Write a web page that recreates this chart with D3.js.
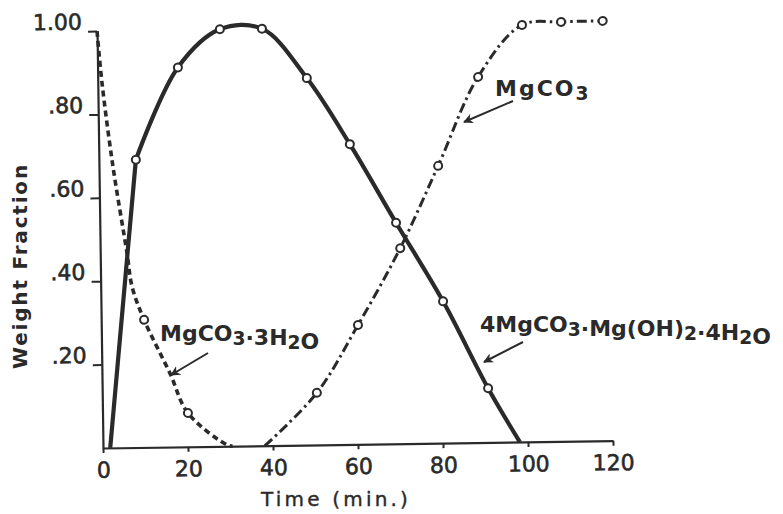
<!DOCTYPE html>
<html>
<head>
<meta charset="utf-8">
<script src="https://cdn.jsdelivr.net/npm/d3@7"></script>
<style>
  body { margin: 0; background: #fff; }
  svg { display: block; font-family: "DejaVu Sans", sans-serif; }
</style>
</head>
<body>
<svg id="chart" width="783" height="514"></svg>
<script>
// 4MgCO3·Mg(OH)2·4H2O (solid, circles)
const basicTime = [8.7, 18.9, 28.9, 38.8, 49.2, 59.1, 69.7, 80.5, 90.8];
const basicFrac = [0.69, 0.91, 1.00, 1.00, 0.88, 0.72, 0.53, 0.34, 0.13];
const basicStart = [1.7, 0];
const basicEnd = [98.1, 0];

// MgCO3·3H2O (dashed)
const triTime = [0, 1.0, 3.3, 6.3, 7.4, 10.1, 16.0, 20.1, 29.2, 30.5];
const triFrac = [1.0, 0.875, 0.674, 0.467, 0.385, 0.306, 0.177, 0.081, 0.003, 0];
const triMarkTime = [10.1, 20.1];
const triMarkFrac = [0.306, 0.081];

// MgCO3 (dash-dot)
const carbStart = [38.1, 0];
const carbTime = [50.5, 60.4, 70.6, 79.8, 89.5, 100, 109.2, 119];
const carbFrac = [0.125, 0.286, 0.469, 0.665, 0.877, 1.0, 1.006, 1.007];

const xTicks = [0, 20, 40, 60, 80, 100, 120];
const yTicks = [0.2, 0.4, 0.6, 0.8, 1.0];
const yTickLabels = ['.20', '.40', '.60', '.80', '1.00'];

const ink = '#2a2a2a';
const svg = d3.select('#chart');

const x = d3.scaleLinear().domain([0, 120]).range([103, 613]);
const y = d3.scaleLinear().domain([0, 1]).range([448, 31]);

// the scan is tilted a little
const plot = svg.append('g').attr('transform', 'rotate(-0.82, 103, 448)');

const xAxis = plot.append('g')
  .attr('transform', `translate(0,${y(0)})`)
  .call(d3.axisBottom(x).tickValues(xTicks).tickSize(5).tickSizeOuter(0).tickFormat(d3.format('d')));

const yAxis = plot.append('g')
  .attr('transform', `translate(${x(0)},0)`)
  .call(d3.axisLeft(y).tickValues(yTicks).tickSize(9).tickSizeOuter(0)
    .tickFormat((d, i) => yTickLabels[i]));

[xAxis, yAxis].forEach((a) => {
  a.select('.domain').attr('stroke', ink).attr('stroke-width', 2.2);
  a.selectAll('.tick line').attr('stroke', ink).attr('stroke-width', 2);
  a.selectAll('.tick text')
    .attr('fill', ink)
    .attr('stroke', ink)
    .attr('stroke-width', 0.6)
    .attr('font-size', 22)
    .attr('font-family', '"DejaVu Sans", sans-serif');
});
xAxis.selectAll('.tick text').attr('y', 14).attr('dy', '0.71em');
yAxis.selectAll('.tick text').attr('x', -15).attr('dy', '-0.1em');

const pt = (t, f) => [x(t), y(f)];
const smooth = d3.line().curve(d3.curveCatmullRom.alpha(0.5));
const straight = d3.line();

// solid curve
plot.append('path')
  .attr('d', straight([pt(...basicStart), pt(basicTime[0], basicFrac[0])]))
  .attr('fill', 'none').attr('stroke', ink).attr('stroke-width', 4.2);
plot.append('path')
  .attr('d', smooth(basicTime.map((t, i) => pt(t, basicFrac[i])).concat([pt(...basicEnd)])))
  .attr('fill', 'none').attr('stroke', ink).attr('stroke-width', 4.2);

// dashed curve
plot.append('path')
  .attr('d', smooth(triTime.map((t, i) => pt(t, triFrac[i]))))
  .attr('fill', 'none').attr('stroke', ink).attr('stroke-width', 3.6)
  .attr('stroke-dasharray', '6,4');

// dash-dot curve
plot.append('path')
  .attr('d', smooth([pt(...carbStart)].concat(carbTime.map((t, i) => pt(t, carbFrac[i])))))
  .attr('fill', 'none').attr('stroke', ink).attr('stroke-width', 3)
  .attr('stroke-dasharray', '10,4,2.5,4');

// circles
const marks = basicTime.map((t, i) => [t, basicFrac[i]])
  .concat(triMarkTime.map((t, i) => [t, triMarkFrac[i]]))
  .concat(carbTime.map((t, i) => [t, carbFrac[i]]));

plot.selectAll('circle.mark')
  .data(marks)
  .enter()
  .append('circle')
  .attr('class', 'mark')
  .attr('cx', (d) => x(d[0]))
  .attr('cy', (d) => y(d[1]))
  .attr('r', 4)
  .attr('fill', '#fff')
  .attr('stroke', ink)
  .attr('stroke-width', 2);

// axis titles
svg.append('text')
  .attr('transform', 'translate(27,266) rotate(-90)')
  .attr('text-anchor', 'middle')
  .attr('font-size', 20)
  .attr('font-weight', 'bold')
  .attr('letter-spacing', 1.8)
  .attr('fill', ink)
  .text('Weight Fraction');

svg.append('text')
  .attr('x', 336)
  .attr('y', 506)
  .attr('text-anchor', 'middle')
  .attr('font-size', 20)
  .attr('letter-spacing', 3.2)
  .attr('fill', ink)
  .attr('stroke', ink)
  .attr('stroke-width', 0.4)
  .text('Time (min.)');

// annotations
svg.append('defs').append('marker')
  .attr('id', 'head')
  .attr('viewBox', '0 0 10 10')
  .attr('refX', 9).attr('refY', 5)
  .attr('markerWidth', 5).attr('markerHeight', 5)
  .attr('orient', 'auto')
  .append('path')
  .attr('d', 'M0,0 L10,5 L0,10 L3,5 Z')
  .attr('fill', ink);

function label(px, py, parts, size, spacing) {
  const t = svg.append('text')
    .attr('x', px).attr('y', py)
    .attr('font-size', size)
    .attr('font-weight', 'bold')
    .attr('letter-spacing', spacing)
    .attr('fill', ink);
  parts.forEach(([s, sub]) => {
    t.append('tspan')
      .attr('font-size', sub ? size * 0.85 : size)
      .attr('dy', sub ? 4 : 0)
      .text(s);
    if (sub) t.append('tspan').attr('dy', -4).text('');
  });
}

function arrow(x1, y1, x2, y2) {
  svg.append('line')
    .attr('x1', x1).attr('y1', y1).attr('x2', x2).attr('y2', y2)
    .attr('stroke', ink).attr('stroke-width', 2)
    .attr('marker-end', 'url(#head)');
}

label(160, 341, [['MgCO'], ['3', true], ['·3H'], ['2', true], ['O']], 22, 0);
arrow(208, 353, 171, 375);

label(495, 96, [['MgCO'], ['3', true]], 22, 2);
arrow(513, 101, 464, 122);

label(480, 332, [['4MgCO'], ['3', true], ['·Mg(OH)'], ['2', true], ['·4H'], ['2', true], ['O']], 22, 0);
arrow(523, 342, 484, 362);
</script>
</body>
</html>
